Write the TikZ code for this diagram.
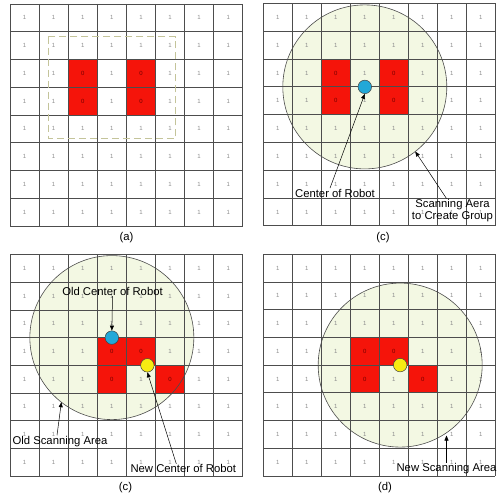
\documentclass[tikz,border=0pt]{standalone}
\usepackage{fontspec}
\setmainfont{Liberation Sans}
\usetikzlibrary{arrows.meta,positioning}
\definecolor{gline}{HTML}{4D4D4D}
\definecolor{gnum}{HTML}{8C8C8C}
\definecolor{zone}{HTML}{F3F8E3}
\definecolor{obred}{HTML}{F5140A}
\definecolor{dashc}{HTML}{C4C49A}
\definecolor{rblue}{HTML}{22A8D8}
\definecolor{ryel}{HTML}{F7EC12}
\tikzset{
  num/.style={font=\fontsize{6}{6}\selectfont,text=gnum,inner sep=0pt},
  zero/.style={font=\fontsize{6}{6}\selectfont,text=red!45!black,inner sep=0pt},
  cellline/.style={draw=gline,line width=0.8pt},
  scan/.style={draw=black!70,line width=0.6pt},
  robot/.style={circle,draw=black!75,line width=0.5pt,minimum size=13.5pt,inner sep=0pt},
  lbl/.style={font=\fontsize{11.3}{12}\selectfont,inner sep=0.5pt,align=center},
  arr/.style={-{Triangle[length=5pt,width=4pt]},line width=0.5pt,draw=black},
}

\begin{document}
\begin{tikzpicture}[x=1pt,y=-1pt]
\useasboundingbox (0,0) rectangle (498,497);
% (a) grid with obstacle cells
\begin{scope}[shift={(10pt,-4pt)},x=29.1pt,y=-27.75pt]
\foreach \i in {0,...,7}
  \foreach \j in {0,...,7}
    \node[num] (a\i\j) at (\i+.5,\j+.5) {1};
\foreach \i/\j in {2/2,2/3,4/2,4/3}{
  \fill[obred] (\i,\j) rectangle ++(1,1);
  \node[zero] (az\i\j) at (\i+.5,\j+.5) {0};}
\foreach \k in {0,...,8}{
  \draw[cellline] (\k,0) -- (\k,8);
  \draw[cellline] (0,\k) -- (8,\k);}
\draw[dashc,line width=0.8pt,dash pattern=on 7pt off 4pt] (1.32,1.18) rectangle (5.70,4.84);
\end{scope}
% (c) top: scanning area round the robot
\begin{scope}[shift={(263.3pt,-3.5pt)},x=29pt,y=-27.8pt]
\fill[zone] (3.5,3) circle (82pt);
\foreach \i in {0,...,7}
  \foreach \j in {0,...,7}
    \node[num] (b\i\j) at (\i+.5,\j+.5) {1};
\foreach \i/\j in {2/2,2/3,4/2,4/3}{
  \fill[obred] (\i,\j) rectangle ++(1,1);
  \node[zero] (bz\i\j) at (\i+.5,\j+.5) {0};}
\foreach \k in {0,...,8}{
  \draw[cellline] (\k,0) -- (\k,8);
  \draw[cellline] (0,\k) -- (8,\k);}
\draw[scan] (3.5,3) circle (82pt);
\node[robot,fill=rblue] (rb) at (3.5,3) {};
\coordinate (eb) at ([shift={(-52:82pt)}]3.5,3);
\end{scope}
% (c) bottom: old and new centre
\begin{scope}[shift={(10pt,-254.5pt)},x=29.1pt,y=-27.7pt]
\fill[zone] (3.5,3) circle (82pt);
\foreach \i in {0,...,7}
  \foreach \j in {0,...,7}
    \node[num] (c\i\j) at (\i+.5,\j+.5) {1};
\foreach \i/\j in {3/3,4/3,3/4,5/4}{
  \fill[obred] (\i,\j) rectangle ++(1,1);
  \node[zero] (cz\i\j) at (\i+.5,\j+.5) {0};}
\foreach \k in {0,...,8}{
  \draw[cellline] (\k,0) -- (\k,8);
  \draw[cellline] (0,\k) -- (8,\k);}
\draw[scan] (3.5,3) circle (82pt);
\node[robot,fill=rblue] (ro) at (3.5,3) {};
\node[robot,fill=ryel] (rn) at (4.72,4) {};
\coordinate (ec) at ([shift={(-128:82pt)}]3.5,3);
\end{scope}
% (d) new scanning area
\begin{scope}[shift={(263.3pt,-254.3pt)},x=29pt,y=-27.7pt]
\fill[zone] (4.72,4) circle (82pt);
\foreach \i in {0,...,7}
  \foreach \j in {0,...,7}
    \node[num] (d\i\j) at (\i+.5,\j+.5) {1};
\foreach \i/\j in {3/3,4/3,3/4,5/4}{
  \fill[obred] (\i,\j) rectangle ++(1,1);
  \node[zero] (dz\i\j) at (\i+.5,\j+.5) {0};}
\foreach \k in {0,...,8}{
  \draw[cellline] (\k,0) -- (\k,8);
  \draw[cellline] (0,\k) -- (8,\k);}
\draw[scan] (4.72,4) circle (82pt);
\node[robot,fill=ryel] (rd) at (4.72,4) {};
\end{scope}
\coordinate (ed) at (446,435.5);
% labels and pointers
\node[lbl] (cr) at (335,193) {Center of Robot};
\node[lbl] (sg) at (452.5,210.5) {Scanning Aera\\to Create Group};
\node[lbl] (oc) at (112.5,291.3) {Old Center of Robot};
\node[lbl] (os) at (60,441.3) {Old Scanning Area};
\node[lbl] (nc) at (183.3,468.7) {New Center of Robot};
\node[lbl] (ns) at (446.5,468.5) {New Scanning Area};
\draw[arr] ([xshift=-5pt]cr.north) -- (rb.south);
\draw[arr] ([xshift=-6pt]sg.north) -- (eb);
\draw[arr] (oc.south) -- (ro.north);
\draw[arr] ([xshift=-3pt]os.north) -- (ec);
\draw[arr] ([xshift=-7pt]nc.north) -- (rn.south);
\draw[arr] (ns.north) -- (ns.north |- ed);
% captions
\node[lbl] (capa) at (126.5,237.5) {(a)};
\node[lbl] (capb) at (383,237.5) {(c)};
\node[lbl] (capc) at (125.5,488) {(c)};
\node[lbl] (capd) at (385,488) {(d)};
\end{tikzpicture}
\end{document}
